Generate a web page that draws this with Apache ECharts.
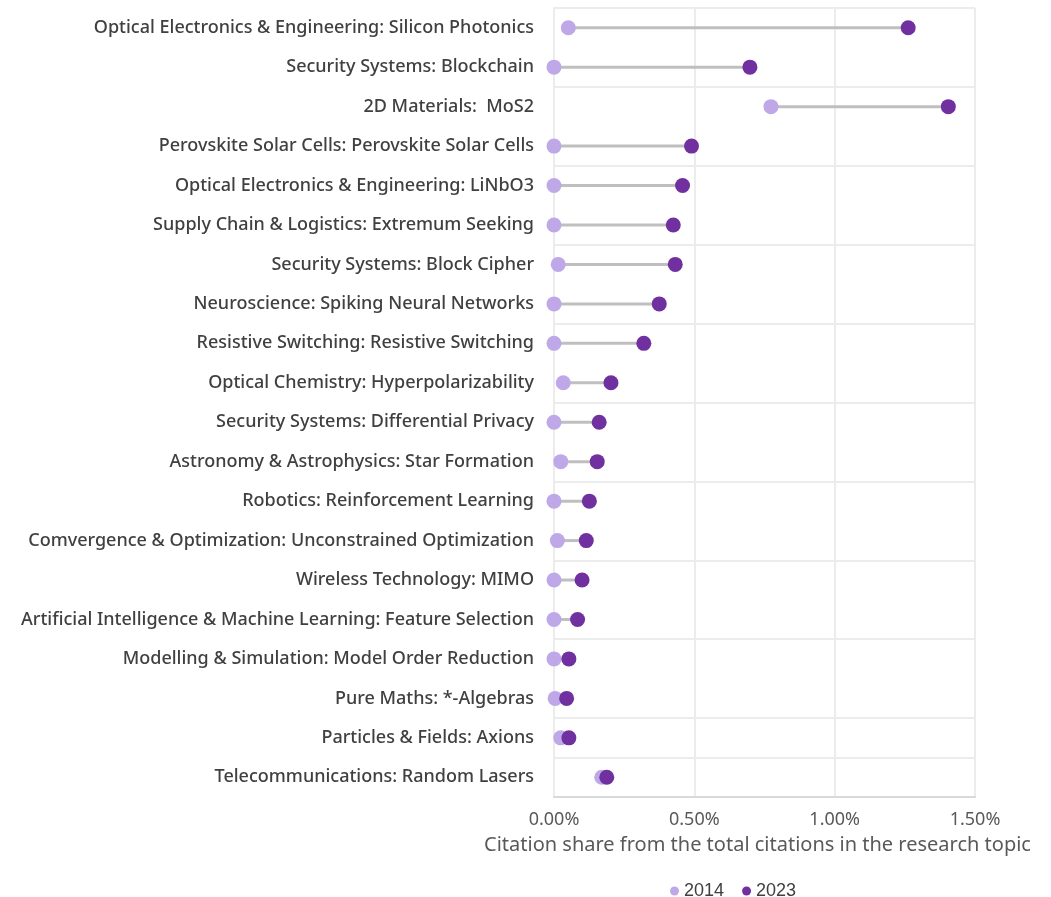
<!DOCTYPE html>
<html>
<head>
<meta charset="utf-8">
<script src="https://cdn.jsdelivr.net/npm/echarts@6/dist/echarts.min.js"></script>
<style>
  html, body { margin: 0; padding: 0; background: #fff; }
  #main { width: 1051px; height: 897px; }
</style>
</head>
<body>
<div id="main"></div>
<script>
// research topics, top to bottom
var topics = [
  'Optical Electronics & Engineering: Silicon Photonics',
  'Security Systems: Blockchain',
  '2D Materials:  MoS2',
  'Perovskite Solar Cells: Perovskite Solar Cells',
  'Optical Electronics & Engineering: LiNbO3',
  'Supply Chain & Logistics: Extremum Seeking',
  'Security Systems: Block Cipher',
  'Neuroscience: Spiking Neural Networks',
  'Resistive Switching: Resistive Switching',
  'Optical Chemistry: Hyperpolarizability',
  'Security Systems: Differential Privacy',
  'Astronomy & Astrophysics: Star Formation',
  'Robotics: Reinforcement Learning',
  'Comvergence & Optimization: Unconstrained Optimization',
  'Wireless Technology: MIMO',
  'Artificial Intelligence & Machine Learning: Feature Selection',
  'Modelling & Simulation: Model Order Reduction',
  'Pure Maths: *-Algebras',
  'Particles & Fields: Axions',
  'Telecommunications: Random Lasers'
];

// citation share in %
var share2014 = [0.051, 0.0, 0.773, 0.0, 0.0, 0.0, 0.015, 0.0, 0.0, 0.033,
                 0.0, 0.024, 0.0, 0.012, 0.0, 0.0, 0.0, 0.004, 0.024, 0.170];
var share2023 = [1.262, 0.698, 1.405, 0.490, 0.458, 0.425, 0.432, 0.375, 0.320, 0.203,
                 0.161, 0.154, 0.126, 0.115, 0.100, 0.084, 0.053, 0.045, 0.053, 0.188];

var xTicks = [0, 0.5, 1.0, 1.5];

var chart = echarts.init(document.getElementById('main'));

var pairs = topics.map(function (t, i) {
  return [i, share2014[i], share2023[i]];
});

var option = {
  textStyle: { fontFamily: 'Noto Sans' },
  grid: { left: 554, right: 76, top: 8, bottom: 100 },
  legend: {
    data: ['2014', '2023'],
    left: 665,
    top: 877,
    icon: 'circle',
    itemWidth: 9,
    itemHeight: 9,
    itemGap: 18,
    textStyle: { fontSize: 18, color: '#404040', fontFamily: 'Liberation Sans' }
  },
  xAxis: {
    type: 'value',
    min: xTicks[0],
    max: xTicks[xTicks.length - 1],
    interval: 0.5,
    name: 'Citation share from the total citations in the research topic',
    nameLocation: 'middle',
    nameGap: 38,
    nameTextStyle: { fontSize: 20, color: '#595959', fontFamily: 'Noto Sans', padding: [0, 14, 0, 0] },
    axisLine: { show: true, lineStyle: { color: '#d9d9d9', width: 2 } },
    axisTick: { show: false },
    axisLabel: {
      margin: 14,
      fontSize: 18,
      color: '#595959',
      formatter: function (v) { return v.toFixed(2) + '%'; }
    },
    splitLine: { show: true, lineStyle: { color: '#ececec', width: 2 } }
  },
  yAxis: {
    type: 'category',
    inverse: true,
    data: topics,
    axisLine: { show: true, lineStyle: { color: '#ececec', width: 2 } },
    axisTick: { show: false },
    axisLabel: {
      margin: 20,
      fontSize: 18,
      fontWeight: 500,
      color: '#404040',
      interval: 0
    },
    splitLine: { show: true, interval: 1, lineStyle: { color: '#ececec', width: 2 } }
  },
  series: [
    {
      type: 'custom',
      silent: true,
      z: 1,
      encode: { x: [1, 2], y: 0 },
      data: pairs,
      renderItem: function (params, api) {
        var a = api.coord([api.value(1), api.value(0)]);
        var b = api.coord([api.value(2), api.value(0)]);
        return {
          type: 'line',
          shape: { x1: a[0], y1: a[1], x2: b[0], y2: b[1] },
          style: { stroke: '#bfbfbf', lineWidth: 3 }
        };
      }
    },
    {
      name: '2014',
      type: 'scatter',
      z: 2,
      symbolSize: 15,
      itemStyle: { color: '#bfa8e8', opacity: 1 },
      data: share2014.map(function (v, i) { return [v, i]; })
    },
    {
      name: '2023',
      type: 'scatter',
      z: 3,
      symbolSize: 15,
      itemStyle: { color: '#7030a0', opacity: 1 },
      data: share2023.map(function (v, i) { return [v, i]; })
    }
  ]
};

chart.setOption(option);
</script>
</body>
</html>
